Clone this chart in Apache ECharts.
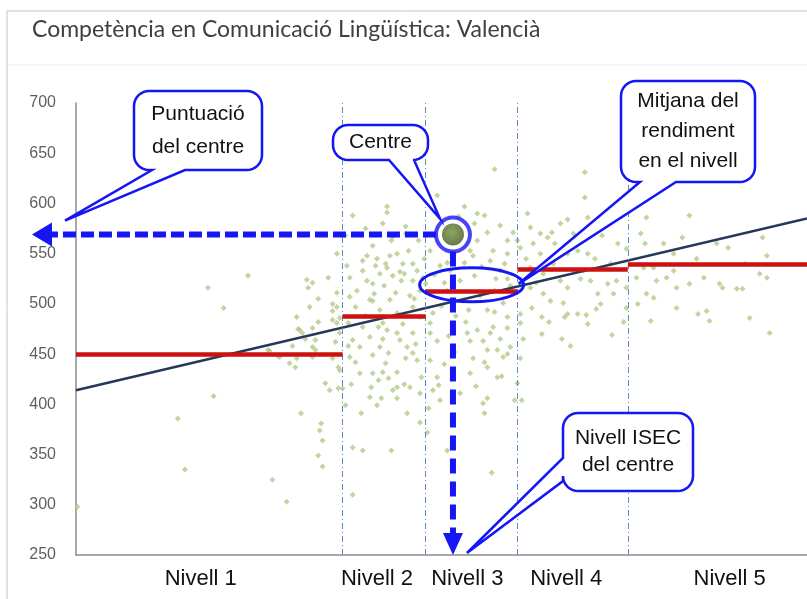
<!DOCTYPE html>
<html>
<head>
<meta charset="utf-8">
<script src="https://cdn.jsdelivr.net/npm/echarts@6/dist/echarts.min.js"></script>
<style>
  html, body { margin: 0; padding: 0; background: #fff; }
  #chart { width: 807px; height: 599px; }
</style>
</head>
<body>
<div id="chart"></div>
<script>
// ISEC axis (x) and score axis (y)
const xMin = -3.05, xMax = 2.05;
const yMin = 250, yMax = 700, yStep = 50;

// levels of ISEC
const levelNames = ['Nivell 1', 'Nivell 2', 'Nivell 3', 'Nivell 4', 'Nivell 5'];
const levelLabelPos = [-2.18, -0.95, -0.32, 0.37, 1.51];
const levelBounds = [-1.19, -0.61, 0.03, 0.80];
const levelMeans = [450, 488, 513, 534, 539];

// regression line (ends)
const trendLine = [[-3.05, 414], [2.05, 585]];

// the school
const centre = [-0.42, 569];

// all schools [ISEC, score]
const schools = [
  // nivell 1
  [-3.04, 298], [-2.34, 386], [-2.29, 335], [-2.09, 408], [-1.68, 325], [-1.58, 303], [-2.13, 516], [-1.85, 528],
  [-2.02, 496], [-1.70, 453], [-1.64, 448], [-1.54, 458], [-1.56, 441], [-1.52, 437], [-1.51, 487], [-1.50, 475],
  [-1.44, 524], [-1.40, 521], [-1.43, 516], [-1.29, 526], [-1.36, 505], [-1.23, 511], [-1.26, 500], [-1.26, 493],
  [-1.42, 497], [-1.36, 482], [-1.49, 474], [-1.47, 471], [-1.40, 476], [-1.23, 481], [-1.21, 486], [-1.38, 464],
  [-1.45, 465], [-1.40, 457], [-1.38, 454], [-1.24, 462], [-1.63, 447], [-1.51, 446], [-1.40, 447], [-1.26, 446],
  [-1.21, 434], [-1.31, 421], [-1.22, 416], [-1.48, 391], [-1.34, 381], [-1.35, 374], [-1.33, 364], [-1.36, 349],
  [-1.33, 338], [-1.28, 414], [-1.71, 454], [-1.26, 484],
  // nivell 2
  [-1.12, 357], [-1.05, 354], [-0.85, 354], [-1.12, 310], [-1.06, 391], [-1.17, 399], [-0.92, 406], [-0.81, 406],
  [-0.74, 391], [-0.65, 382], [-1.19, 416], [-0.99, 417], [-0.81, 417], [-0.88, 597], [-0.88, 591], [-0.91, 580],
  [-0.98, 558], [-1.05, 543], [-0.81, 550], [-0.77, 540], [-0.88, 536], [-0.93, 530], [-0.67, 533], [-0.70, 523],
  [-0.98, 520], [-0.78, 523], [-1.14, 526], [-1.09, 513], [-0.82, 511], [-0.65, 513], [-1.23, 550], [-1.05, 533],
  [-0.89, 540], [-0.73, 553], [-0.63, 526], [-0.72, 508], [-1.23, 497], [-1.21, 471], [-1.12, 464], [-1.14, 447],
  [-1.22, 437], [-1.10, 442], [-1.07, 431], [-0.98, 449], [-0.98, 431], [-0.94, 424], [-0.91, 432], [-0.87, 426],
  [-0.81, 432], [-0.84, 414], [-1.00, 407], [-0.95, 399], [-0.72, 417], [-0.65, 411], [-0.79, 464], [-0.74, 457],
  [-0.75, 446], [-0.70, 451], [-0.94, 477], [-0.88, 474], [-0.81, 471], [-1.05, 477], [-1.00, 467], [-1.07, 457],
  [-0.93, 457], [-0.87, 451], [-1.15, 481], [-0.93, 494], [-0.81, 491], [-0.70, 497], [-0.65, 487], [-0.86, 504],
  [-1.14, 507], [-1.00, 504], [-0.91, 481], [-0.70, 471], [-0.67, 444], [-0.64, 427], [-1.02, 548], [-0.95, 545],
  [-0.84, 528], [-0.76, 530], [-1.16, 538], [-0.97, 510], [-0.90, 518], [-0.70, 540], [-0.62, 545], [-0.85, 563],
  [-0.75, 570], [-1.17, 568], [-1.12, 588], [-1.03, 575], [-0.84, 567], [-0.75, 577], [-0.66, 563], [-0.98, 503],
  [-1.15, 458], [-1.03, 488], [-0.96, 538], [-0.86, 548], [-0.79, 532], [-0.69, 505], [-1.10, 497], [-1.02, 523],
  [-0.91, 465], [-0.77, 480], [-0.68, 460], [-0.89, 441], [-0.76, 420], [-1.13, 420],
  // nivell 3
  [-0.53, 608], [-0.34, 597], [-0.25, 590], [-0.20, 588], [-0.27, 580], [-0.18, 571], [-0.25, 563], [-0.04, 563],
  [-0.14, 553], [-0.28, 548], [-0.16, 543], [-0.04, 550], [-0.58, 553], [-0.13, 513], [-0.04, 525], [-0.13, 634],
  [-0.58, 471], [-0.53, 463], [-0.58, 444], [-0.53, 427], [-0.56, 414], [-0.51, 404], [-0.30, 463], [-0.32, 471],
  [-0.25, 474], [-0.21, 463], [-0.16, 471], [-0.14, 477], [-0.11, 454], [-0.18, 454], [-0.28, 446], [-0.20, 442],
  [-0.11, 427], [-0.18, 437], [-0.07, 447], [-0.02, 457], [-0.04, 487], [-0.30, 431], [-0.18, 406], [-0.21, 401],
  [-0.31, 494], [-0.18, 494], [-0.07, 501], [0.03, 421], [0.01, 404], [-0.56, 491], [-0.58, 481], [-0.46, 354],
  [-0.37, 411], [-0.20, 391], [-0.15, 332], [-0.52, 419], [-0.59, 396], [-0.60, 372], [-0.44, 533], [-0.37, 523],
  [-0.46, 513], [-0.27, 528], [-0.09, 533], [-0.40, 503], [-0.23, 508], [-0.02, 518], [-0.51, 538], [-0.34, 541],
  [-0.04, 450], [-0.04, 476], [-0.08, 428], [-0.47, 575], [-0.38, 587], [-0.36, 558], [-0.09, 578], [0.00, 571],
  [-0.46, 541], [-0.61, 520], [-0.55, 529], [-0.48, 521], [-0.42, 545], [-0.30, 553], [-0.22, 537], [-0.12, 525],
  [-0.06, 540], [-0.33, 482], [-0.45, 468], [-0.41, 452], [-0.48, 440], [-0.26, 418], [-0.09, 465], [-0.13, 492],
  [-0.50, 498], [-0.40, 488],
  // nivell 4
  [0.10, 590], [0.38, 584], [0.50, 631], [0.50, 606], [0.12, 576], [0.19, 570], [0.27, 571], [0.33, 580],
  [0.52, 586], [0.03, 563], [0.05, 556], [0.14, 560], [0.24, 566], [0.29, 560], [0.19, 550], [0.38, 550],
  [0.45, 553], [0.52, 550], [0.62, 568], [0.73, 560], [0.79, 555], [0.12, 536], [0.21, 530], [0.12, 516],
  [0.21, 510], [0.26, 503], [0.33, 523], [0.38, 516], [0.47, 525], [0.49, 533], [0.54, 523], [0.59, 510],
  [0.66, 520], [0.72, 523], [0.61, 500], [0.70, 510], [0.79, 516], [0.79, 496], [0.77, 482], [0.69, 469],
  [0.40, 458], [0.34, 465], [0.20, 470], [0.07, 465], [0.05, 446], [0.45, 490], [0.38, 490], [0.52, 480],
  [0.05, 490], [0.05, 481], [0.20, 487], [0.36, 487], [0.51, 489], [0.35, 501], [0.13, 496], [0.06, 404],
  [0.09, 545], [0.16, 521], [0.28, 540], [0.42, 570], [0.57, 545], [0.68, 540], [0.25, 482], [0.58, 495],
  // nivell 5
  [0.93, 586], [0.89, 570], [0.92, 560], [1.23, 588], [1.18, 566], [1.12, 550], [1.50, 556], [1.74, 566],
  [1.77, 548], [1.37, 626], [0.86, 526], [0.91, 536], [0.98, 536], [0.93, 510], [1.00, 523], [1.07, 526],
  [1.12, 533], [1.14, 516], [0.98, 506], [1.14, 496], [1.23, 520], [1.33, 526], [1.44, 520], [1.46, 516],
  [1.56, 515], [1.60, 515], [1.72, 530], [1.77, 526], [1.35, 493], [1.65, 486], [1.79, 471], [1.37, 483],
  [1.29, 490], [0.96, 483], [0.87, 500], [1.05, 560], [1.28, 545], [1.42, 560], [1.62, 540]
];

const blue = '#1616f5';
const textFont = 'Liberation Sans, Arial, sans-serif';

// red mean segments, one per level
const edges = [xMin].concat(levelBounds, [xMax]);
const meanSegments = levelMeans.map((m, i) => [{ coord: [edges[i], m] }, { coord: [edges[i + 1], m] }]);

const chart = echarts.init(document.getElementById('chart'));
chart.setOption({
  animation: false,
  title: {
    text: 'Competència en Comunicació Lingüística: Valencià',
    left: 27,
    top: 13,
    textStyle: { fontFamily: 'Lato', fontSize: 23, fontWeight: 'normal', color: '#404040' }
  },
  grid: { left: 76, right: 0, top: 103, bottom: 44 },
  xAxis: {
    type: 'value',
    min: xMin,
    max: xMax,
    axisLine: { show: true, onZero: false, lineStyle: { color: '#8c8c8c', width: 1.5 } },
    axisTick: { show: false },
    splitLine: { show: false },
    axisLabel: {
      customValues: levelLabelPos,
      margin: 13,
      fontFamily: textFont,
      fontSize: 22,
      color: '#111',
      formatter: function (v) {
        const i = levelLabelPos.findIndex(p => Math.abs(p - v) < 1e-6);
        return i >= 0 ? levelNames[i] : '';
      }
    }
  },
  yAxis: {
    type: 'value',
    min: yMin,
    max: yMax,
    interval: yStep,
    axisLine: { show: true, onZero: false, lineStyle: { color: '#8c8c8c', width: 1.5 } },
    axisTick: { show: false },
    splitLine: { show: false },
    axisLabel: { margin: 20, fontFamily: textFont, fontSize: 16, color: '#5f5f5f' }
  },
  series: [
    {
      name: 'Centres',
      type: 'scatter',
      data: schools,
      symbol: 'diamond',
      symbolSize: 6,
      itemStyle: { color: '#b3cb88' },
      silent: true,
      z: 2,
      markLine: {
        silent: true,
        symbol: ['none', 'none'],
        label: { show: false },
        lineStyle: { color: '#5b8cc4', width: 1, type: [6, 3, 1, 3] },
        data: levelBounds.map(b => ({ xAxis: b }))
      }
    },
    {
      name: 'Recta de regressió',
      type: 'line',
      data: trendLine,
      showSymbol: false,
      silent: true,
      lineStyle: { color: '#22395a', width: 2.5 },
      z: 3
    },
    {
      name: 'Mitjana del nivell',
      type: 'line',
      data: [],
      silent: true,
      z: 4,
      markLine: {
        silent: true,
        symbol: ['none', 'none'],
        label: { show: false },
        lineStyle: { color: '#cc1111', width: 4.5, type: 'solid' },
        data: meanSegments
      }
    },
    {
      name: 'Anell',
      type: 'scatter',
      data: [centre],
      symbol: 'circle',
      symbolSize: 34,
      silent: true,
      itemStyle: { color: '#fff', borderColor: blue, borderWidth: 4 },
      z: 20
    },
    {
      name: 'Centre',
      type: 'scatter',
      data: [centre],
      symbol: 'circle',
      symbolSize: 22,
      silent: true,
      itemStyle: {
        color: new echarts.graphic.RadialGradient(0.45, 0.4, 0.6, [
          { offset: 0, color: '#6f8f3c' },
          { offset: 1, color: '#44591f' }
        ])
      },
      z: 21
    }
  ]
});

// ---- annotations, placed from the chart's own scales ----
const c = chart.convertToPixel({ gridIndex: 0 }, centre);
const axisCorner = chart.convertToPixel({ gridIndex: 0 }, [xMin, yMin]);
const meanN3 = chart.convertToPixel({ gridIndex: 0 }, [(levelBounds[1] + levelBounds[2]) / 2, levelMeans[2]]);

function roundedPts(x, y, w, h, r, tail, tip) {
  const pts = [];
  const arc = (cx, cy, a0, a1) => {
    for (let i = 0; i <= 8; i++) {
      const a = a0 + (a1 - a0) * i / 8;
      pts.push([cx + r * Math.cos(a), cy + r * Math.sin(a)]);
    }
  };
  const P = Math.PI;
  arc(x + w - r, y + r, -P / 2, 0);
  arc(x + w - r, y + h - r, 0, P / 2);
  if (tail.side === 'bottom') {
    pts.push([tail.b, y + h], tip, [tail.a, y + h]);
  }
  arc(x + r, y + h - r, P / 2, P);
  if (tail.side === 'left') {
    pts.push([x, tail.b], tip, [x, tail.a]);
  }
  arc(x + r, y + r, P, 1.5 * P);
  return pts;
}

function callout(box, tail, tip, text, lineHeight) {
  const [x, y, w, h] = box;
  return [
    {
      type: 'polygon',
      shape: { points: roundedPts(x, y, w, h, 15, tail, tip) },
      style: { fill: '#fff', stroke: blue, lineWidth: 2.5 },
      z: 100
    },
    {
      type: 'text',
      x: x + w / 2,
      y: y + h / 2,
      style: {
        text: text,
        fill: '#111',
        font: '21px ' + textFont,
        align: 'center',
        verticalAlign: 'middle',
        lineHeight: lineHeight
      },
      z: 101
    }
  ];
}

const ringR = 17;
const graphics = [
  // chart frame
  { type: 'rect', shape: { x: 7, y: 11, width: 900, height: 700 }, style: { fill: 'none', stroke: '#c4c4c4', lineWidth: 1 }, z: 0, silent: true },
  { type: 'line', shape: { x1: 8, y1: 65, x2: 807, y2: 65 }, style: { stroke: '#ececec', lineWidth: 1 }, z: 0, silent: true },
  // horizontal arrow: score of the school
  { type: 'line', shape: { x1: c[0] - ringR, y1: c[1], x2: axisCorner[0] - 26, y2: c[1] }, style: { stroke: blue, lineWidth: 6, lineDash: [13, 5] }, z: 90 },
  { type: 'polygon', shape: { points: [[axisCorner[0] - 44, c[1]], [axisCorner[0] - 24, c[1] - 12], [axisCorner[0] - 24, c[1] + 12]] }, style: { fill: blue }, z: 90 },
  // vertical arrow: ISEC level of the school
  { type: 'line', shape: { x1: c[0], y1: c[1] + ringR, x2: c[0], y2: axisCorner[1] - 20 }, style: { stroke: blue, lineWidth: 6, lineDash: [15, 8] }, z: 90 },
  { type: 'polygon', shape: { points: [[c[0], axisCorner[1]], [c[0] - 10, axisCorner[1] - 22], [c[0] + 10, axisCorner[1] - 22]] }, style: { fill: blue }, z: 90 },
  // ellipse round the mean of the level
  { type: 'ellipse', shape: { cx: meanN3[0], cy: meanN3[1] - 6, rx: 52, ry: 17 }, style: { fill: 'none', stroke: blue, lineWidth: 3 }, z: 95 }
];

graphics.push.apply(graphics, callout([134, 91, 128, 79], { side: 'bottom', a: 152, b: 185 }, [axisCorner[0] - 11, c[1] - 14], 'Puntuació\ndel centre', 33));
graphics.push.apply(graphics, callout([333, 125, 95, 35], { side: 'bottom', a: 389, b: 414 }, [c[0] - 13, c[1] - 16], 'Centre', 24));
graphics.push.apply(graphics, callout([621, 81, 134, 101], { side: 'bottom', a: 640, b: 676 }, [meanN3[0] + 47, meanN3[1] - 7], 'Mitjana del\nrendiment\nen el nivell', 30));
graphics.push.apply(graphics, callout([563, 413, 130, 78], { side: 'left', a: 458, b: 481 }, [c[0] + 14, axisCorner[1] - 2], 'Nivell ISEC\ndel centre', 27));

chart.setOption({ graphic: { elements: graphics } });
</script>
</body>
</html>
